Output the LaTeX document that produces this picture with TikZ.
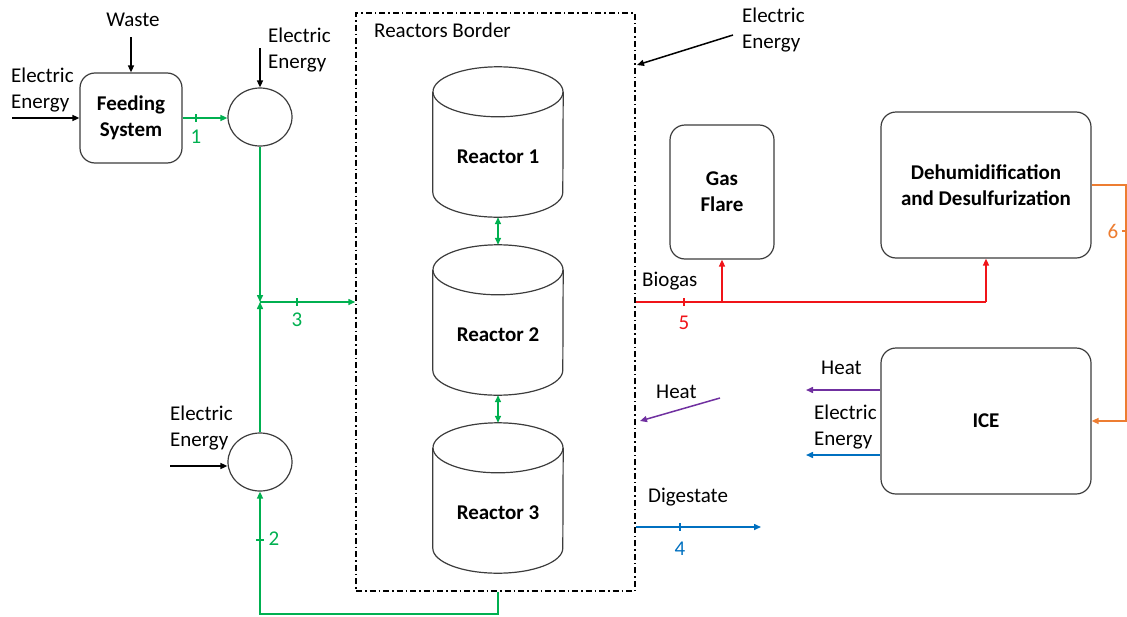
\documentclass[tikz,border=0pt]{standalone}
\usepackage{fontspec}
\setmainfont{Carlito}
\usetikzlibrary{arrows.meta,calc,shapes.geometric}

\definecolor{flowgreen}{RGB}{0,176,80}
\definecolor{flowred}{RGB}{240,20,25}
\definecolor{floworange}{RGB}{237,125,49}
\definecolor{flowblue}{RGB}{0,112,192}
\definecolor{flowpurple}{RGB}{112,48,160}
\definecolor{outline}{RGB}{60,60,60}

\newcommand{\drawreactor}[3]{%
  \node[rbody] (#1) at (498,#2) {};
  \draw[cyl] ($(#1.north west)+(0,25)$) -- ($(#1.south west)+(0,-25)$)
    arc[start angle=180, end angle=0, x radius=65, y radius=25]
    -- ($(#1.north east)+(0,25)$);
  \draw[cyl] ($(#1.north)+(0,25)$) ellipse[x radius=65, y radius=25];
  \node[rname] (#1lbl) at ($(#1)+(0,15)$) {#3};
}

\begin{document}
\begin{tikzpicture}[x=1pt,y=-1pt,
  font=\fontsize{21}{26}\selectfont,
  box/.style={draw=outline, line width=1.2pt, rounded corners=15pt, align=center,
    inner sep=0pt, font=\fontsize{21}{26}\selectfont\bfseries},
  mixer/.style={draw=outline, line width=1.2pt, ellipse, minimum width=64,
    minimum height=58, inner sep=0pt},
  rbody/.style={minimum width=130, minimum height=150, inner sep=0pt},
  cyl/.style={draw=outline, line width=1.2pt},
  rname/.style={inner sep=0pt, font=\fontsize{21}{26}\selectfont\bfseries},
  lbl/.style={inner sep=0pt, align=left, anchor=west},
  tip/.style={-{Triangle[length=7pt,width=6pt]}},
  arr/.style={line width=1.5pt, black, tip},
  garr/.style={line width=1.5pt, flowgreen, tip},
  gboth/.style={line width=1.5pt, flowgreen, {Triangle[length=7pt,width=6pt]}-{Triangle[length=7pt,width=6pt]}},
  rline/.style={line width=1.5pt, flowred},
  rarr/.style={rline, tip},
  oarr/.style={line width=1.5pt, floworange, tip},
  barr/.style={line width=1.5pt, flowblue, tip},
  parr/.style={line width=1.5pt, flowpurple, tip},
  tickmark/.style={line width=1.2pt},
]
\useasboundingbox (0,0) rectangle (1127,616);

% ---------- feeding side ----------
\node[box, minimum width=102, minimum height=90] (feed) at (131,118) {Feeding\\System};
\node[mixer] (m1) at (260,117) {};
\node[mixer] (m2) at (260,462) {};

\node[inner sep=0pt] (waste) at (133,20) {Waste};
\node[lbl] (ee1) at (11,90) {Electric\\Energy};
\node[lbl] (ee2) at (268,50) {Electric\\Energy};
\node[lbl] (ee3) at (170,428) {Electric\\Energy};

\coordinate (wastein) at (131,37);
\coordinate (ee1in) at (12,118);
\coordinate (ee2in) at (260,48);
\coordinate (ee3in) at (170,466);
\coordinate (j3) at (260,302);

\draw[arr] (wastein) -- (feed.north);
\draw[arr] (ee1in) -- (feed.west |- ee1in);
\draw[arr] (ee2in) -- (m1.north);
\draw[arr] (ee3in) -- (m2.west |- ee3in);

% ---------- reactors ----------
\node[draw, line width=1.5pt, dash pattern=on 6pt off 3pt on 1.5pt off 3pt,
  minimum width=279, minimum height=578, inner sep=0pt] (border) at (495.5,302) {};
\node[lbl] (bordertitle) at (374,30) {Reactors Border};

\drawreactor{r1}{142}{Reactor 1}
\drawreactor{r2}{320}{Reactor 2}
\drawreactor{r3}{498}{Reactor 3}

\draw[gboth] (r1.south) -- (r2.north);
\draw[gboth] (r2.south) -- (r3.north);

\node[lbl] (ee4) at (742,30) {Electric\\Energy};
\coordinate (ee4in) at (733,35);
\coordinate (ee4out) at (637,65);
\draw[arr] (ee4in) -- (ee4out);

% ---------- green flows ----------
\draw[garr] (feed.east) -- (feed.east -| m1.west);
\draw[tickmark, flowgreen] (196,114) -- (196,122);
\node[inner sep=0pt, text=flowgreen] (n1) at (196,137) {1};

\draw[garr] (m1.south) -- (j3);
\draw[garr] (m2.north) -- (j3);
\draw[garr] (j3) -- (border.west);
\draw[tickmark, flowgreen] (297,298) -- (297,306);
\node[inner sep=0pt, text=flowgreen] (n3) at (297,320) {3};

\draw[garr] (border.south -| r3.south) -- ++(0,22) -| (m2.south);
\draw[tickmark, flowgreen] (256,540) -- (264,540);
\node[inner sep=0pt, text=flowgreen] (n2) at (274,539) {2};

% ---------- biogas line ----------
\node[box, minimum width=104, minimum height=134] (flare) at (722,192) {Gas\\Flare};
\node[box, minimum width=210, minimum height=146] (dehum) at (986,185) {Dehumidification\\and Desulfurization};
\node[box, minimum width=210, minimum height=146] (ice) at (986,421) {ICE};

\node[lbl] (biogas) at (642,281) {Biogas};
\draw[rline] (border.east) -- (border.east -| dehum.south);
\draw[rarr] (border.east -| flare.south) -- (flare.south);
\draw[rarr] (border.east -| dehum.south) -- (dehum.south);
\draw[tickmark, flowred] (684,298) -- (684,306);
\node[inner sep=0pt, text=flowred] (n5) at (684,323) {5};

\coordinate (c6) at (1126,421);
\draw[oarr] (dehum.east) -| (c6) -- (ice.east);
\draw[tickmark, floworange] (1122,231) -- (1130,231);
\node[inner sep=0pt, text=floworange] (n6) at (1113,231) {6};

% ---------- ICE outputs ----------
\node[lbl] (heat1) at (821,368) {Heat};
\node[lbl] (ee5) at (814,427) {Electric\\Energy};
\coordinate (heat1end) at (806,390);
\coordinate (ee5end) at (806,455);
\draw[parr] (ice.west |- heat1end) -- (heat1end);
\draw[barr] (ice.west |- ee5end) -- (ee5end);

\node[lbl] (heat2) at (656,392) {Heat};
\coordinate (heat2in) at (720,398);
\coordinate (heat2end) at (640,421);
\draw[parr] (heat2in) -- (heat2end);

% ---------- digestate ----------
\node[lbl] (digest) at (648,497) {Digestate};
\coordinate (digend) at (761,527);
\draw[barr] (border.east |- digend) -- (digend);
\draw[tickmark, flowblue] (680,523) -- (680,531);
\node[inner sep=0pt, text=flowblue] (n4) at (680,549) {4};
\end{tikzpicture}
\end{document}
